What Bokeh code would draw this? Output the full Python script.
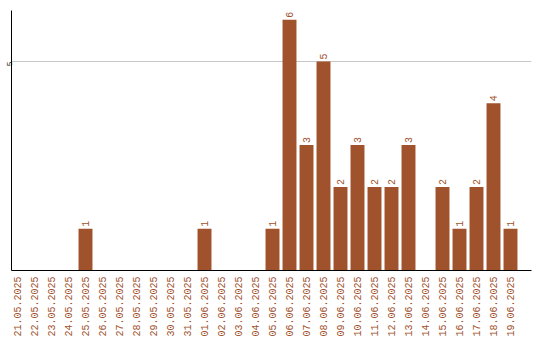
import math
from bokeh.plotting import figure
from bokeh.models import ColumnDataSource, FixedTicker, Range1d
from bokeh.core.properties import value
from bokeh.embed import file_html
from bokeh.resources import INLINE

dates = ["21.05.2025", "22.05.2025", "23.05.2025", "24.05.2025", "25.05.2025",
         "26.05.2025", "27.05.2025", "28.05.2025", "29.05.2025", "30.05.2025",
         "31.05.2025", "01.06.2025", "02.06.2025", "03.06.2025", "04.06.2025",
         "05.06.2025", "06.06.2025", "07.06.2025", "08.06.2025", "09.06.2025",
         "10.06.2025", "11.06.2025", "12.06.2025", "13.06.2025", "14.06.2025",
         "15.06.2025", "16.06.2025", "17.06.2025", "18.06.2025", "19.06.2025"]
counts = [0, 0, 0, 0, 1, 0, 0, 0, 0, 0, 0, 1, 0, 0, 0,
          1, 6, 3, 5, 2, 3, 2, 2, 3, 0, 2, 1, 2, 4, 1]

BAR = "#a0522d"
xs = list(range(len(dates)))
src = ColumnDataSource(dict(x=xs, y=counts))
lab_x = [x for x, c in zip(xs, counts) if c > 0]
lab_y = [c for c in counts if c > 0]
lab_src = ColumnDataSource(dict(x=lab_x, y=lab_y, t=[str(c) for c in lab_y]))

p = figure(width=540, height=340, output_backend="svg", toolbar_location=None,
           x_range=Range1d(-0.353, 30.235), y_range=Range1d(0, 6.22),
           min_border_left=11, min_border_right=9, min_border_top=10,
           min_border_bottom=70)
p.outline_line_color = None
p.background_fill_color = "white"
p.border_fill_color = "white"

p.vbar(x="x", top="y", width=0.82, source=src, fill_color=BAR, line_color=None)
p.text(x="x", y="y", text="t", source=lab_src, angle=math.pi / 2,
       text_align="left", text_baseline="middle", y_offset=-2,
       text_font=value("Liberation Mono"), text_font_size="10px", text_color=BAR)

p.xgrid.grid_line_color = None
p.ygrid.grid_line_color = "#c8c8c8"
p.yaxis.ticker = FixedTicker(ticks=[5])
p.xaxis.ticker = FixedTicker(ticks=xs)
p.xaxis.major_label_overrides = {i: d for i, d in enumerate(dates)}
p.xaxis.major_label_orientation = math.pi / 2
p.xaxis.major_label_text_font = "Liberation Mono"
p.xaxis.major_label_text_font_size = "10px"
p.xaxis.major_label_text_color = BAR
p.xaxis.major_label_standoff = 6
p.xaxis.major_tick_in = 0
p.xaxis.major_tick_out = 0
p.xaxis.minor_tick_in = 0
p.xaxis.minor_tick_out = 0
p.xaxis.axis_line_color = "black"

p.yaxis.major_label_orientation = math.pi / 2
p.yaxis.major_label_text_font = "Liberation Mono"
p.yaxis.major_label_text_font_size = "8px"
p.yaxis.major_label_text_color = "black"
p.yaxis.major_label_standoff = 2
p.yaxis.major_tick_in = 0
p.yaxis.major_tick_out = 0
p.yaxis.minor_tick_in = 0
p.yaxis.minor_tick_out = 0
p.yaxis.axis_line_color = "black"

open("out.html", "w").write(file_html(p, INLINE))
